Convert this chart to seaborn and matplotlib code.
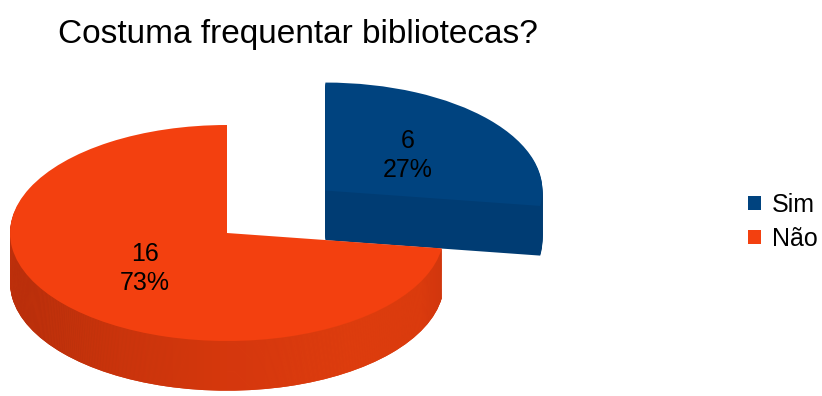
import numpy as np
import matplotlib
matplotlib.use("Agg")
import matplotlib.pyplot as plt
import seaborn as sns
from matplotlib.patches import Patch
from matplotlib.colors import LinearSegmentedColormap

# ---- data ----
categories = ["Sim", "Não"]
counts = [6, 16]
top_colors = ["#00437f", "#f3400f"]
side_colors = ["#003c73", "#d5370d"]
title = "Costuma frequentar bibliotecas?"

sns.set_theme(style="white")
plt.rcParams['font.family'] = ['Liberation Sans', 'DejaVu Sans']
plt.rcParams['text.color'] = 'black'

fig = plt.figure(figsize=(8.22, 3.96), dpi=100)
ax = fig.add_axes([0, 0, 1, 1])

total = sum(counts)
explode = [0.6, 0.0]
thickness = 0.46
n_layers = 48

# horizontal shading of the orange side wall
wall_cmap = LinearSegmentedColormap.from_list(
    "wall", [(0.0, "#b22e0b"), (0.25, "#c8340c"), (0.5, "#d6380d"),
             (0.8, "#e03f0f"), (0.95, "#dd3d0e"), (1.0, "#cf370d")])
grad = np.linspace(0, 1, 256).reshape(1, -1)

# side walls: stacked pies shifted downward
for k in range(n_layers, 0, -1):
    off = thickness * k / n_layers
    wedges, _ = ax.pie(counts, colors=side_colors, explode=explode, startangle=90,
                       counterclock=False, center=(0, -off),
                       wedgeprops=dict(linewidth=0), frame=False)
    wedges[0].set_zorder(1)
    wedges[1].set_zorder(3)
    im = ax.imshow(grad, cmap=wall_cmap, extent=(-1.0, 1.0, -1.6, 0.2),
                   aspect='auto', zorder=3, interpolation='bilinear')
    im.set_clip_path(wedges[1])

# top faces
wedges, texts, autotexts = ax.pie(
    counts, colors=top_colors, explode=explode, startangle=90, counterclock=False,
    center=(0, 0), autopct=lambda p: f"{round(p * total / 100)}\n{p:.0f}%",
    pctdistance=0.5, textprops=dict(fontsize=18, color='black'),
    wedgeprops=dict(linewidth=0), frame=False)
wedges[0].set_zorder(2)
wedges[1].set_zorder(4)
for t in autotexts:
    t.set_zorder(5)
    t.set_linespacing(1.25)

ax.set_aspect('auto')
ax.set_xlim(-227 / 217, (822 - 227) / 217)
ax.set_ylim((233 - 396) / 108, 233 / 108)
ax.axis('off')

fig.text(58 / 822, 1 - 43 / 396, title, fontsize=24, color='black',
         ha='left', va='baseline')

handles = [Patch(facecolor=c, edgecolor='none', label=l) for c, l in zip(top_colors, categories)]
leg = fig.legend(handles=handles, loc='center left', bbox_to_anchor=(748 / 822, 1 - 222 / 396),
                 frameon=False, fontsize=18, handlelength=0.5, handleheight=0.5,
                 handletextpad=0.45, labelspacing=0.42, borderpad=0, borderaxespad=0)
for t in leg.get_texts():
    t.set_color('black')

fig.savefig("out.png", dpi=100)
